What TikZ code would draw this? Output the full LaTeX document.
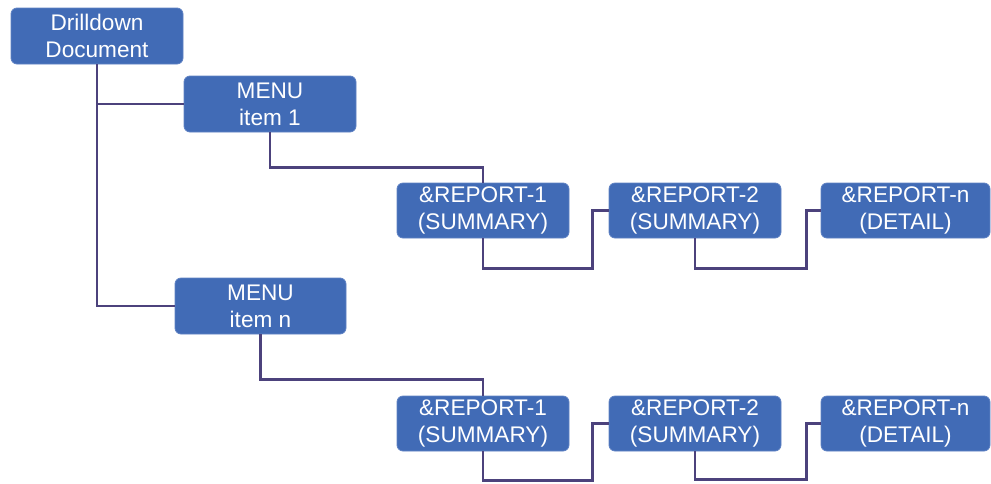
\documentclass[tikz,border=0pt]{standalone}
\usepackage{fontspec}
\setmainfont{Liberation Sans}
\definecolor{boxblue}{RGB}{65,107,182}
\definecolor{boxedge}{RGB}{95,130,195}
\definecolor{linepurple}{RGB}{76,66,124}
\begin{document}
\begin{tikzpicture}[x=1pt,y=-1pt,
  box/.style={draw=boxedge, line width=0.8pt, fill=boxblue, rounded corners=6pt,
    text=white, align=center, inner sep=0pt, font=\fontsize{22.6}{27}\selectfont,
    minimum height=55pt},
  conn/.style={draw=linepurple, line width=2.8pt}]
\useasboundingbox (0,0) rectangle (991,483);
\node[box, minimum width=172pt, minimum height=56pt] (dd) at (97,36) {Drilldown\\Document};
\node[box, minimum width=172pt, minimum height=56pt] (m1) at (270,104) {MENU\\item 1};
\node[box, minimum width=171pt, minimum height=56pt] (mn) at (260.5,306) {MENU\\item n};
\node[box, minimum width=172pt] (r11) at (483,210.5) {\&REPORT-1\\(SUMMARY)};
\node[box, minimum width=172pt] (r12) at (695,210.5) {\&REPORT-2\\(SUMMARY)};
\node[box, minimum width=169pt] (r1n) at (905.5,210.5) {\&REPORT-n\\(DETAIL)};
\node[box, minimum width=172pt] (r21) at (483,423.5) {\&REPORT-1\\(SUMMARY)};
\node[box, minimum width=172pt] (r22) at (695,423.5) {\&REPORT-2\\(SUMMARY)};
\node[box, minimum width=169pt] (r2n) at (905.5,423.5) {\&REPORT-n\\(DETAIL)};
\draw[conn] (dd.south) |- (m1.west);
\draw[conn] (dd.south) |- (mn.west);
\draw[conn] (m1.south) -- ++(0,35) -| (r11.north);
\draw[conn] (mn.south) -- ++(0,45) -| (r21.north);
\draw[conn] (r11.south) -- ++(0,30) -| ([xshift=-16pt]r12.west) -- (r12.west);
\draw[conn] (r12.south) -- ++(0,30) -| ([xshift=-14pt]r1n.west) -- (r1n.west);
\draw[conn] (r21.south) -- ++(0,29) -| ([xshift=-16pt]r22.west) -- (r22.west);
\draw[conn] (r22.south) -- ++(0,28) -| ([xshift=-14pt]r2n.west) -- (r2n.west);
\end{tikzpicture}
\end{document}
